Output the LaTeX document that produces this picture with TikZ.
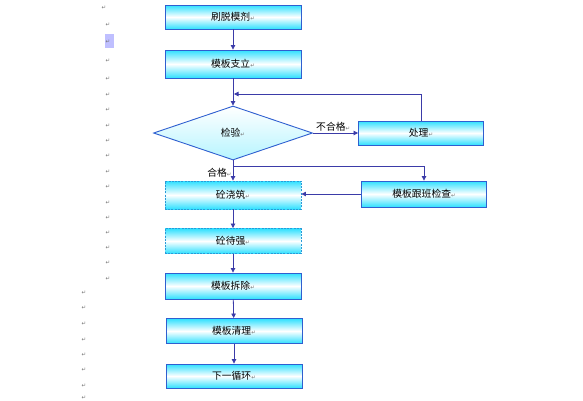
\documentclass[tikz,border=0pt]{standalone}
\usepackage{fontspec}
\usepackage{xcolor}
\newfontfamily\cjk{Noto Sans CJK SC}
\newfontfamily\symf{DejaVu Sans}
\usetikzlibrary{shapes.geometric, arrows.meta, positioning, calc}

\definecolor{lineblue}{HTML}{3B3BA8}
\definecolor{boxblue}{HTML}{2F5FD0}
\definecolor{dashblue}{HTML}{2A9AD8}
\definecolor{boxcyan}{HTML}{2EE0FF}
\newcommand{\ret}{{\symf\fontsize{5.5}{5.5}\selectfont\color{black!55}↵}}

\tikzset{
  stepbox/.style={rectangle, draw=boxblue, line width=0.9pt,
    minimum width=136pt, minimum height=26pt, inner sep=0pt,
    top color=boxcyan, bottom color=boxcyan, middle color=white,
    font=\cjk\fontsize{9.8}{11}\selectfont},
  dashbox/.style={stepbox, draw=dashblue, dash pattern=on 2pt off 1.2pt},
  sidebox/.style={stepbox, minimum width=125pt},
  checkbox/.style={diamond, draw=boxblue, line width=0.9pt, aspect=2.94,
    minimum width=159pt, minimum height=54pt, inner sep=0pt,
    top color=white, bottom color=boxcyan!35,
    font=\cjk\fontsize{9.8}{11}\selectfont},
  flow/.style={draw=lineblue, line width=0.8pt, -{Triangle[length=4.5pt,width=4.5pt]}},
  tag/.style={font=\cjk\fontsize{9.8}{11}\selectfont, inner sep=1pt}
}

\begin{document}
\begin{tikzpicture}[x=1pt, y=-1pt]
\useasboundingbox (0,0) rectangle (583,400);
% paragraph marks on the left
\node[inner sep=0pt] (pm0) at (104,8) {\ret};
\fill[blue!25] (105,34) rectangle (114,48);
\foreach \yy in {25,42,61,79,95,110,126,141,156,172,187,203,218,233,248,263,279}
  \node[inner sep=0pt] at (108,\yy) {\ret};
\foreach \yy in {293,308,324,340,355,370,386,398}
  \node[inner sep=0pt] at (84,\yy) {\ret};

% main column
\node[stepbox, minimum height=24pt] (brush) at (233,17) {刷脱模剂\ret};
\node[stepbox, minimum height=28pt] (erect) at (233,64) {模板支立\ret};
\node[checkbox] (insp) at (233,133) {检验\ret};
\node[dashbox, minimum height=28pt] (pour) at (233,195) {砼浇筑\ret};
\node[dashbox, minimum height=25pt] (cure) at (233,241) {砼待强\ret};
\node[stepbox] (strip) at (233,286) {模板拆除\ret};
\node[stepbox, minimum height=25pt] (clean) at (234,331) {模板清理\ret};
\node[stepbox, minimum height=24pt] (cycle) at (234,376) {下一循环\ret};

% side column
\node[sidebox, minimum height=24pt] (fix) at (421,133) {处理\ret};
\node[sidebox] (watch) at (424,194) {模板跟班检查\ret};

\coordinate (back) at (234,94);
\coordinate (split) at (233,166);

\draw[flow] (brush) -- (erect);
\draw[flow] (erect) -- (insp);
\draw[flow] (fix.north) |- (back);
\draw[flow] (insp.east) -- node[tag, above, pos=0.45] (fail) {不合格\ret} (fix.west);
\draw[draw=lineblue, line width=0.8pt] (insp.south) -- (split);
\draw[flow] (split) -- node[tag, left, pos=0.45] (pass) {合格\ret} (pour.north);
\draw[flow] (split) -| (watch.north);
\draw[flow] (watch.west) -- (pour.east |- watch.west);
\draw[flow] (pour) -- (cure);
\draw[flow] (cure) -- (strip);
\draw[flow] (strip) -- (clean);
\draw[flow] (clean) -- (cycle);
\end{tikzpicture}
\end{document}
